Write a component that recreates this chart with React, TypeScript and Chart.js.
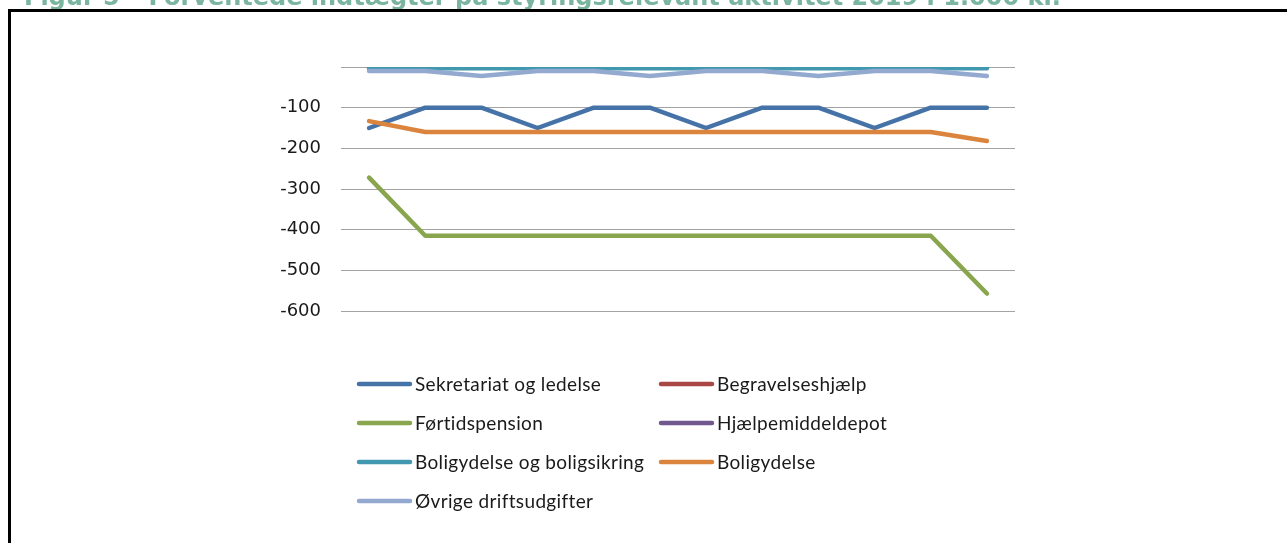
import React, { useEffect, useRef } from 'react';
import { Chart, registerables } from 'chart.js';

Chart.register(...registerables);

const categories = ['Jan', 'Feb', 'Mar', 'Apr', 'Maj', 'Jun', 'Jul', 'Aug', 'Sep', 'Okt', 'Nov', 'Dec'];

const seriesNames = [
  'Sekretariat og ledelse',
  'Begravelseshjælp',
  'Førtidspension',
  'Hjælpemiddeldepot',
  'Boligydelse og boligsikring',
  'Boligydelse',
  'Øvrige driftsudgifter',
];

const sekretariat = [-150, -100, -100, -150, -100, -100, -150, -100, -100, -150, -100, -100];
const begravelse = [0, 0, 0, 0, 0, 0, 0, 0, 0, 0, 0, 0];
const fortidspension = [-272, -415, -415, -415, -415, -415, -415, -415, -415, -415, -415, -557];
const hjaelpemiddel = [0, 0, 0, 0, 0, 0, 0, 0, 0, 0, 0, 0];
const boligsikring = [-3, -3, -3, -3, -3, -3, -3, -3, -3, -3, -3, -3];
const boligydelse = [-133, -160, -160, -160, -160, -160, -160, -160, -160, -160, -160, -182];
const ovrige = [-10, -10, -22, -10, -10, -22, -10, -10, -22, -10, -10, -22];

const seriesValues = [sekretariat, begravelse, fortidspension, hjaelpemiddel, boligsikring, boligydelse, ovrige];
const seriesColors = ['#4572A7', '#AA4643', '#89A54E', '#71588F', '#4198AF', '#DB843D', '#93A9CF'];

const yTicks = { min: -600, max: 0, step: 100 };

const TITLE = 'Figur 5 – Forventede indtægter på styringsrelevant aktivitet 2019 i 1.000 kr.';

const LEGEND_X = [357, 659];
const LEGEND_Y0 = 384;
const LEGEND_DY = 39;

const gridLegend = {
  id: 'gridLegend',
  afterDraw(chart: any) {
    const ctx = chart.ctx as CanvasRenderingContext2D;
    chart.data.datasets.forEach((ds: any, i: number) => {
      const col = i % 2;
      const row = Math.floor(i / 2);
      const x = LEGEND_X[col];
      const y = LEGEND_Y0 + row * LEGEND_DY;
      ctx.save();
      ctx.strokeStyle = ds.borderColor;
      ctx.lineWidth = 4.5;
      ctx.lineCap = 'round';
      ctx.beginPath();
      ctx.moveTo(x + 2, y);
      ctx.lineTo(x + 53, y);
      ctx.stroke();
      ctx.fillStyle = '#1a1a1a';
      ctx.font = '19px Lato';
      (ctx as any).letterSpacing = '0.35px';
      ctx.textBaseline = 'alphabetic';
      ctx.textAlign = 'left';
      ctx.fillText(ds.label, x + 58, y + 7);
      ctx.restore();
    });
  },
};

export default function App() {
  const ref = useRef<HTMLCanvasElement | null>(null);

  useEffect(() => {
    document.documentElement.style.overflow = 'hidden';
    document.body.style.overflow = 'hidden';
    if (!ref.current) return;
    const n = seriesNames.length;
    const chart = new Chart(ref.current, {
      type: 'line',
      data: {
        labels: categories,
        datasets: seriesNames.map((name, i) => ({
          label: name,
          data: seriesValues[i],
          borderColor: seriesColors[i],
          backgroundColor: seriesColors[i],
          borderWidth: 4.5,
          borderCapStyle: 'round' as const,
          borderJoinStyle: 'round' as const,
          pointRadius: 0,
          pointHoverRadius: 0,
          tension: 0,
          fill: false,
          order: n - i,
        })),
      },
      options: {
        animation: false,
        responsive: false,
        maintainAspectRatio: false,
        layout: { padding: { left: 0, right: 272, top: 67, bottom: 232 } },
        plugins: {
          legend: { display: false },
          title: { display: false },
          tooltip: { enabled: false },
        },
        scales: {
          x: { type: 'category', display: false, offset: true },
          y: {
            min: yTicks.min,
            max: yTicks.max,
            afterFit: (s: any) => {
              s.width = 341;
            },
            border: { display: false },
            grid: { color: '#a3a3a3', lineWidth: 1, drawTicks: false },
            ticks: {
              stepSize: yTicks.step,
              padding: 20,
              color: '#1a1a1a',
              font: { family: 'DejaVu Sans', size: 18 },
              callback: (v: any) => (Number(v) === 0 ? '' : String(v)),
            },
          },
        },
      },
      plugins: [gridLegend],
    });
    return () => chart.destroy();
  }, []);

  return (
    <div>
      <div
        style={{
          position: 'fixed',
          left: 24,
          top: -15,
          fontFamily: '"DejaVu Sans"',
          fontWeight: 'bold',
          fontSize: 24,
          lineHeight: '24px',
          color: '#7AB5A0',
          whiteSpace: 'nowrap',
        }}
      >
        {TITLE}
      </div>
      <div
        style={{
          position: 'fixed',
          left: 8,
          top: 9,
          width: 1400,
          height: 700,
          borderTop: '3px solid #000',
          borderLeft: '3px solid #000',
          boxSizing: 'border-box',
        }}
      />
      <div style={{ position: 'fixed', left: 0, top: 0, width: 1287, height: 543 }}>
        <canvas ref={ref} width={1287} height={543} style={{ width: 1287, height: 543, display: 'block' }} />
      </div>
    </div>
  );
}
